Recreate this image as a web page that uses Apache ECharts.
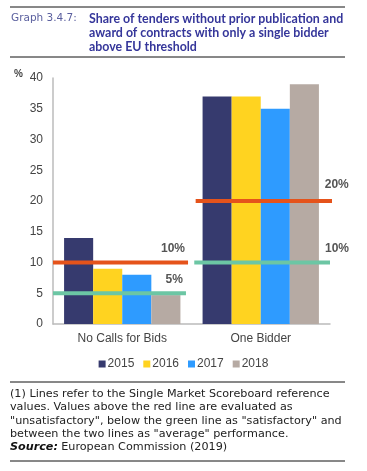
<!DOCTYPE html>
<html><head><meta charset="utf-8">
<script src="https://cdn.jsdelivr.net/npm/echarts@6/dist/echarts.min.js"></script>
<style>html,body{margin:0;padding:0;background:#fff}#c{width:367px;height:471px}</style>
</head><body><div id="c"></div>
<script>
const categories = ['No Calls for Bids', 'One Bidder'];
const years = ['2015', '2016', '2017', '2018'];
const values2015 = [14, 37];
const values2016 = [9, 37];
const values2017 = [8, 35];
const values2018 = [4.7, 39];
const redRef = [10, 20];
const greenRef = [5, 10];
const yTicks = [0, 5, 10, 15, 20, 25, 30, 35, 40];

const colors = ['#363a6e', '#ffd320', '#2e9bff', '#b6aaa3'];
const seriesValues = [values2015, values2016, values2017, values2018];
const font = '"DejaVu Sans", Arial, sans-serif';
const chartFont = '"Liberation Sans", Arial, sans-serif';

function refSeries(name, vals, color, startOff, endOff, labelStyles) {
  const data = [];
  vals.forEach((v, i) => {
    data.push([i + startOff[i], v]);
    data.push({value: [i + endOff[i], v], label: Object.assign({show: true, formatter: v + '%'}, labelStyles[i])});
    if (i < vals.length - 1) data.push([i + 1, null]);
  });
  return {
    name, type: 'line', xAxisIndex: 1, data, symbol: 'circle', symbolSize: 0.1, showSymbol: true,
    connectNulls: false, itemStyle: {color: 'rgba(0,0,0,0)'},
    lineStyle: {color, width: 4}, silent: true, z: 5, clip: false,
    label: {position: 'top', color: '#555', fontWeight: 'bold', fontSize: 12, fontFamily: chartFont}
  };
}

const chart = echarts.init(document.getElementById('c'));
const series = years.map((y, i) => ({
  name: y, type: 'bar', data: seriesValues[i], barGap: 0, barCategoryGap: '16%',
  itemStyle: {color: colors[i]}
}));
series.push(refSeries('red', redRef, '#e5531b', [0, 0.03], [0.975, 1.02],
  [{align: 'right', offset: [-3, -3]}, {align: 'center', offset: [4, -5]}]));
series.push(refSeries('green', greenRef, '#6cc6a4', [0, 0.02], [0.96, 1.0],
  [{align: 'right', offset: [-3, -3]}, {align: 'center', offset: [7, -3]}]));

chart.setOption({
  animation: false,
  textStyle: {fontFamily: chartFont},
  grid: {left: 53, right: 37, top: 78, bottom: 147},
  xAxis: [{
    type: 'category', data: categories,
    axisLine: {lineStyle: {color: '#bbb', width: 1.5}}, axisTick: {show: false},
    axisLabel: {color: '#444', fontSize: 12, margin: 9}
  }, {
    type: 'value', min: 0, max: 2, show: false
  }],
  yAxis: {
    type: 'value', min: 0, max: 40, interval: 5,
    axisLine: {show: true, lineStyle: {color: '#bbb', width: 1.5}}, axisTick: {show: false},
    splitLine: {show: false},
    axisLabel: {color: '#444', fontSize: 12, margin: 10,
      formatter: v => yTicks.includes(v) ? String(v) : ''}
  },
  legend: {
    data: years, bottom: 96, left: 'center', itemWidth: 7, itemHeight: 7, itemGap: 9,
    icon: 'rect', textStyle: {color: '#444', fontSize: 12, padding: [0, 0, 0, -3]}
  },
  series,
  graphic: [
    {type: 'line', shape: {x1: 10, y1: 7, x2: 345, y2: 7}, style: {stroke: '#111', lineWidth: 1}},
    {type: 'line', shape: {x1: 10, y1: 57, x2: 345, y2: 57}, style: {stroke: '#111', lineWidth: 1}},
    {type: 'text', left: 11, top: 13, style: {text: 'Graph 3.4.7:', fill: '#5a5f9e', font: '10.5px ' + font}},
    {type: 'text', left: 89, top: 12, style: {
      text: 'Share of tenders without prior publication and\naward of contracts with only a single bidder\nabove EU threshold',
      fill: '#35369a', font: 'bold 12.4px Lato, ' + chartFont, lineHeight: 14}},
    {type: 'text', left: 14, top: 69, style: {text: '%', fill: '#444', font: 'bold 10px ' + chartFont}},
    {type: 'line', shape: {x1: 10, y1: 382, x2: 345, y2: 382}, style: {stroke: '#111', lineWidth: 1}},
    {type: 'text', left: 10, top: 387, style: {
      text: '(1) Lines refer to the Single Market Scoreboard reference\nvalues. Values above the red line are evaluated as\n"unsatisfactory", below the green line as "satisfactory" and\nbetween the two lines as "average" performance.',
      fill: '#222', font: '11.2px ' + font, lineHeight: 13.5}},
    {type: 'text', left: 10, top: 441, style: {
      rich: {b: {fontWeight: 'bold', fontStyle: 'italic', fontSize: 11.2, fill: '#111', fontFamily: font},
             n: {fontSize: 11.2, fill: '#222', fontFamily: font}},
      text: '{b|Source:} {n|European Commission (2019)}'}},
    {type: 'line', shape: {x1: 10, y1: 461, x2: 345, y2: 461}, style: {stroke: '#111', lineWidth: 1}}
  ]
});
</script></body></html>
